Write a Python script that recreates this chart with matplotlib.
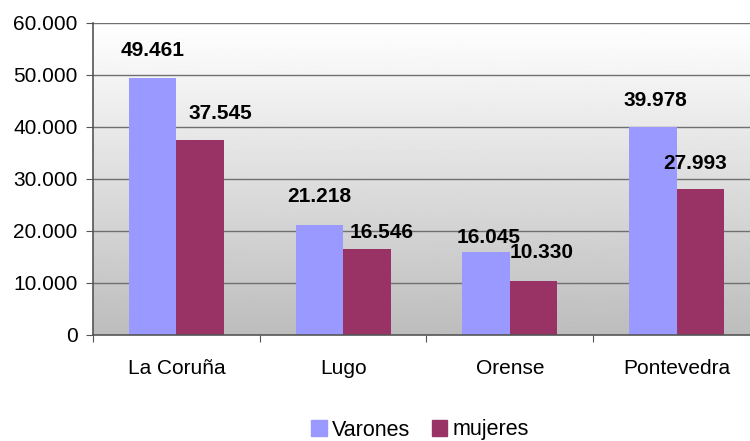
import numpy as np
import matplotlib
matplotlib.use("Agg")
from matplotlib import pyplot as plt
from matplotlib.patches import Patch

provincias = ["La Coruña", "Lugo", "Orense", "Pontevedra"]
varones = [49461, 21218, 16045, 39978]
mujeres = [37545, 16546, 10330, 27993]
y_ticks = [0, 10000, 20000, 30000, 40000, 50000, 60000]

# label nudges in pixels (dx, dy above bar top), as the original chart places them
off_v = [(0, 27), (0, 28), (3, 14), (3, 27)]
off_m = [(20, 26), (15, 16), (8, 29), (-5, 26)]

c_var = "#9999FF"
c_muj = "#993366"


def fmt(v):
    return f"{v:,.0f}".replace(",", ".")


plt.rcParams['font.family'] = ['Liberation Sans', 'DejaVu Sans']
fig = plt.figure(figsize=(7.5, 4.41), dpi=100)
ax = fig.add_axes([93 / 750, 1 - 335 / 441, 667 / 750, 312 / 441])

x = np.arange(1, len(provincias) + 1)
w = 0.285
ax.set_xlim(0.5, len(provincias) + 0.5)

# gradient background
grad = np.linspace(1.0, 0.74, 256).reshape(-1, 1)
ax.imshow(grad, cmap="gray", vmin=0, vmax=1, aspect="auto",
          extent=(0.5, len(provincias) + 0.5, 0, 60000), origin="upper", zorder=0)
ax.set_ylim(0, 60000)

for yv in y_ticks[1:]:
    ax.axhline(yv, color="#707070", lw=1, zorder=1)

b1 = ax.bar(x - w / 2, varones, w, color=c_var, zorder=2)
b2 = ax.bar(x + w / 2, mujeres, w, color=c_muj, zorder=2)

for bars, vals, offs in [(b1, varones, off_v), (b2, mujeres, off_m)]:
    for b, v, (dx, dy) in zip(bars, vals, offs):
        ax.annotate(fmt(v), (b.get_x() + b.get_width() / 2, v),
                    xytext=(dx * 0.72, dy * 0.72), textcoords="offset points",
                    ha="center", va="center", fontsize=15, fontweight="bold",
                    zorder=3)

ax.set_yticks(y_ticks)
ax.set_yticklabels([fmt(v) for v in y_ticks], fontsize=15)
ax.set_xticks(np.arange(0.5, len(provincias) + 1, 1.0))
ax.set_xticklabels([])
ax.set_xticks(x, minor=True)
ax.set_xticklabels(provincias, minor=True, fontsize=15)
ax.tick_params(axis="x", which="minor", length=0, pad=17)
ax.tick_params(axis="x", which="major", length=5, color="#555555")
ax.tick_params(axis="y", length=5, color="#555555", pad=6)

for s in ["top", "right"]:
    ax.spines[s].set_visible(False)
for s in ["left", "bottom"]:
    ax.spines[s].set_color("#555555")
    ax.spines[s].set_linewidth(1.2)

handles = [Patch(color=c_var, label="Varones"), Patch(color=c_muj, label="mujeres")]
fig.legend(handles=handles, loc="center", bbox_to_anchor=(420 / 750, 1 - 430 / 441),
           ncol=2, frameon=False, fontsize=15.5, handlelength=0.7, handleheight=0.7,
           handletextpad=0.25, columnspacing=1.0)

fig.savefig("out.png", dpi=100)
